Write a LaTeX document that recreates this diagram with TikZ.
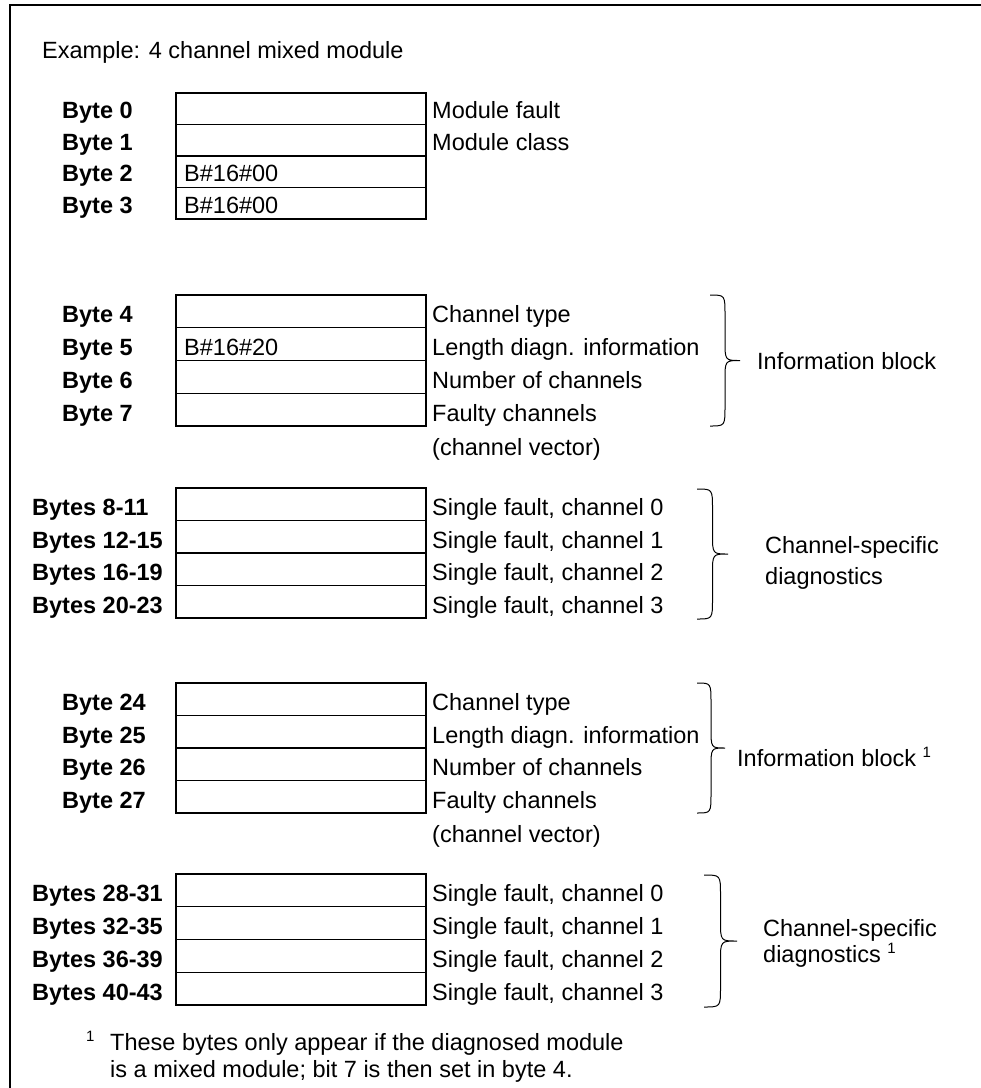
\documentclass[tikz,border=0pt]{standalone}
\usepackage{fontspec}
\setmainfont{Liberation Sans}
\newcommand{\curlybr}[4]{%
  \draw[brc] (#1,#2) .. controls (#1+#4/2,#2) .. (#1+#4/2,#2+20)
    -- (#1+#4/2,{(#2+#3)/2-20}) .. controls (#1+#4/2,{(#2+#3)/2}) .. (#1+#4,{(#2+#3)/2})
    .. controls (#1+#4/2,{(#2+#3)/2}) .. (#1+#4/2,{(#2+#3)/2+20})
    -- (#1+#4/2,#3-20) .. controls (#1+#4/2,#3) .. (#1,#3);}
\newcommand{\supone}{ {\fontsize{15}{15}\selectfont\raisebox{9pt}{1}}}
\begin{document}
\begin{tikzpicture}[x=1pt,y=-1pt,
  cell/.style={draw, line width=1.2pt, minimum width=250pt, inner sep=0pt, outer sep=0pt},
  lbl/.style={anchor=base west, inner sep=0pt, font=\fontsize{23.5}{28}\selectfont\bfseries},
  txt/.style={anchor=base west, inner sep=0pt, font=\fontsize{23.5}{28}\selectfont},
  brc/.style={line width=1pt}]
\useasboundingbox (0,0) rectangle (981,1088);
% frame
\draw[line width=1.2pt] (10,1100) -- (10,5) -- (1000,5);
\node[txt] (title) at (42,58) {Example: 4 channel mixed module};
% section 1
\foreach \i/\lab/\val/\desc in {0/Byte 0//Module fault, 1/Byte 1//Module class, 2/Byte 2/B\#16\#00/, 3/Byte 3/B\#16\#00/}{
  \pgfmathsetmacro\yc{93+(\i+0.5)*31.5}
  \pgfmathsetmacro\yb{93+(\i+1)*31.5-6}
  \node[cell, minimum height=31.5pt] (a\i) at (301,\yc) {};
  \node[lbl] (al\i) at (62,\yb) {\lab};
  \node[txt] (av\i) at (184,\yb) {\val};
  \node[txt] (ad\i) at (432,\yb) {\desc};
}
% section 2
\foreach \i/\lab/\val/\desc in {0/Byte 4//Channel type, 1/Byte 5/B\#16\#20/Length diagn. information, 2/Byte 6//Number of channels, 3/Byte 7//Faulty channels}{
  \pgfmathsetmacro\yc{295+(\i+0.5)*32.75}
  \pgfmathsetmacro\yb{295+(\i+1)*32.75-5}
  \node[cell, minimum height=32.75pt] (b\i) at (301,\yc) {};
  \node[lbl] (bl\i) at (62,\yb) {\lab};
  \node[txt] (bv\i) at (184,\yb) {\val};
  \node[txt] (bd\i) at (432,\yb) {\desc};
}
\node[txt] (bd4) at (432,455) {(channel vector)};
\curlybr{710}{295}{426}{30}
\node[txt] (binfo) at (757,369) {Information block};
% section 3
\foreach \i/\lab/\desc in {0/Bytes 8-11/Single fault{,} channel 0, 1/Bytes 12-15/Single fault{,} channel 1, 2/Bytes 16-19/Single fault{,} channel 2, 3/Bytes 20-23/Single fault{,} channel 3}{
  \pgfmathsetmacro\yc{488+(\i+0.5)*32.5}
  \pgfmathsetmacro\yb{488+(\i+1)*32.5-5}
  \node[cell, minimum height=32.5pt] (c\i) at (301,\yc) {};
  \node[lbl] (cl\i) at (32,\yb) {\lab};
  \node[txt] (cd\i) at (432,\yb) {\desc};
}
\curlybr{697}{489}{619}{31}
\node[txt] (cchan) at (765,553) {Channel-specific};
\node[txt] (cdiag) at (765,584) {diagnostics};
% section 4
\foreach \i/\lab/\desc in {0/Byte 24/Channel type, 1/Byte 25/Length diagn. information, 2/Byte 26/Number of channels, 3/Byte 27/Faulty channels}{
  \pgfmathsetmacro\yc{683+(\i+0.5)*32.5}
  \pgfmathsetmacro\yb{683+(\i+1)*32.5-5}
  \node[cell, minimum height=32.5pt] (d\i) at (301,\yc) {};
  \node[lbl] (dl\i) at (62,\yb) {\lab};
  \node[txt] (dd\i) at (432,\yb) {\desc};
}
\node[txt] (dd4) at (432,842) {(channel vector)};
\curlybr{697}{683}{813}{28}
\node[txt] (dinfo) at (737,766) {Information block\supone};
% section 5
\foreach \i/\lab/\desc in {0/Bytes 28-31/Single fault{,} channel 0, 1/Bytes 32-35/Single fault{,} channel 1, 2/Bytes 36-39/Single fault{,} channel 2, 3/Bytes 40-43/Single fault{,} channel 3}{
  \pgfmathsetmacro\yc{874+(\i+0.5)*32.75}
  \pgfmathsetmacro\yb{874+(\i+1)*32.75-5}
  \node[cell, minimum height=32.75pt] (e\i) at (301,\yc) {};
  \node[lbl] (el\i) at (32,\yb) {\lab};
  \node[txt] (ed\i) at (432,\yb) {\desc};
}
\curlybr{704}{875}{1007}{33}
\node[txt] (echan) at (763,936) {Channel-specific};
\node[txt] (ediag) at (763,962) {diagnostics\supone};
% footnote
\node[anchor=base west, inner sep=0pt, font=\fontsize{15}{15}\selectfont] (fn1) at (86,1041) {1};
\node[txt] (fnA) at (110,1050) {These bytes only appear if the diagnosed module};
\node[txt] (fnB) at (110,1077) {is a mixed module; bit 7 is then set in byte 4.};
\end{tikzpicture}
\end{document}
